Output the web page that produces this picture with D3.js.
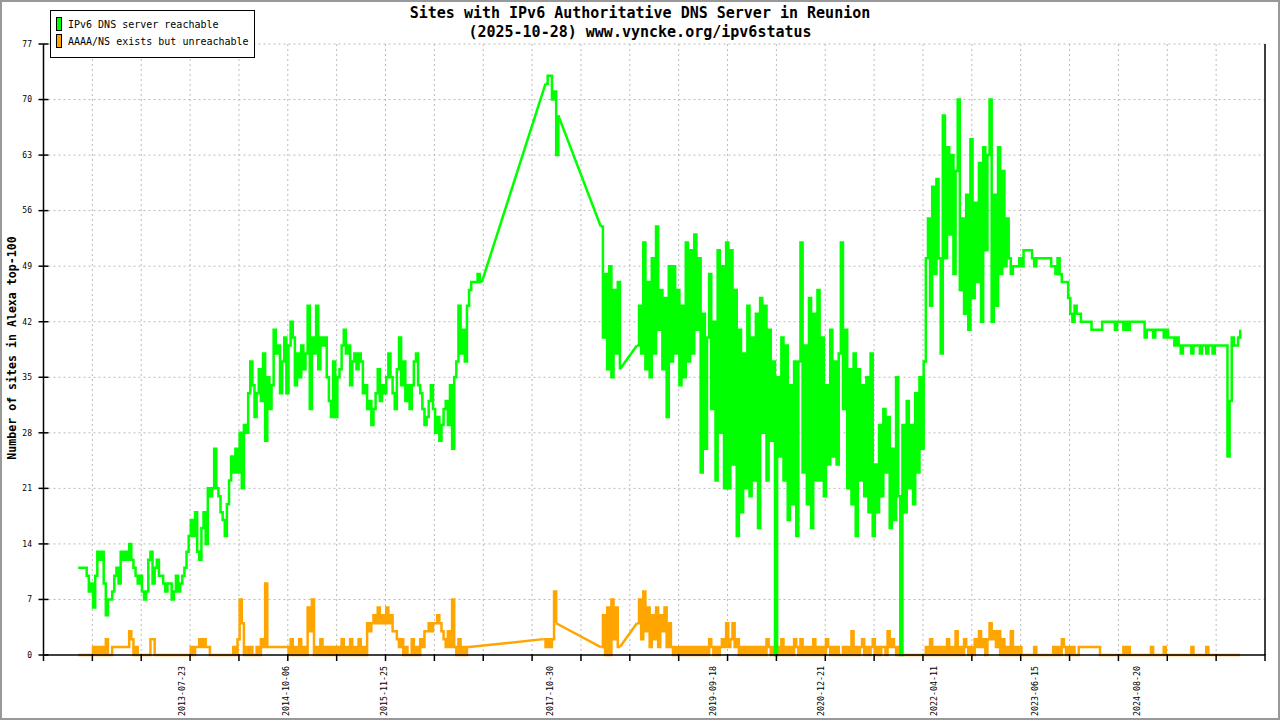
<!DOCTYPE html>
<html>
<head>
<meta charset="utf-8">
<script src="https://cdn.jsdelivr.net/npm/d3@7"></script>
<style>
  body { margin: 0; background: #fff; }
  svg { display: block; }
  text { font-family: "DejaVu Sans Mono", "Liberation Mono", monospace; fill: #000; }
</style>
</head>
<body>
<svg id="chart" width="1280" height="720"></svg>
<script>
const N = null;

// one value every 9 days starting 2012-05-09, null = no sample (line joins across)
const startDate = "2012-05-09";
const stepDays = 9;

const reachable = [
  11,11,11,11,10,8,9,6,10,13,
  12,13,9,5,7,7,8,10,11,9,
  13,12,13,12,14,12,11,10,9,10,
  8,7,8,12,13,9,11,12,10,10,
  9,8,9,9,7,8,10,8,9,10,
  11,13,15,17,15,18,13,12,16,18,
  14,21,20,21,26,21,20,18,17,15,
  19,22,25,23,26,23,28,21,29,28,
  33,37,34,30,33,36,32,38,27,35,
  31,34,41,38,39,33,37,40,33,39,
  42,40,34,38,35,39,36,38,44,31,
  40,38,44,36,40,39,40,35,32,30,
  37,30,35,36,39,41,38,39,34,37,
  38,36,38,37,33,34,31,32,29,31,
  33,36,32,34,33,35,38,35,33,31,
  36,40,34,37,32,34,31,34,37,38,
  34,33,31,29,30,32,34,31,28,30,
  27,29,31,32,29,34,26,35,37,44,
  38,41,37,44,46,47,47,47,48,47,
  47,N,N,N,N,N,N,N,N,N,
  N,N,N,N,N,N,N,N,N,N,
  N,N,N,N,N,N,N,N,N,N,
  72,73,73,70,71,63,68,N,N,N,
  N,N,N,N,N,N,N,N,N,N,
  N,N,N,N,N,N,54,40,48,36,
  49,35,46,38,47,36,N,N,N,N,
  N,N,N,39,44,38,52,36,47,35,
  50,38,54,41,46,36,45,30,49,37,
  49,38,46,34,44,35,52,37,51,38,
  53,41,50,23,43,26,40,48,31,42,
  22,51,28,49,21,52,21,51,24,46,
  15,41,18,38,21,44,20,40,22,43,
  16,45,28,44,22,41,27,37,0,35,
  25,40,22,39,17,34,19,37,15,37,
  52,23,39,19,45,16,43,22,46,22,
  40,20,34,24,41,25,37,24,38,52,
  31,41,21,36,19,38,15,36,22,34,
  20,35,18,38,15,24,18,29,20,31,
  23,30,16,26,17,35,20,0,29,18,
  32,21,29,19,33,23,35,26,37,50,
  55,44,59,48,60,50,38,68,50,64,
  53,63,48,61,70,46,55,43,58,41,
  65,45,57,47,62,42,64,51,63,70,
  42,58,44,64,48,61,49,55,50,48,
  49,49,49,50,49,51,51,51,51,50,
  49,50,50,50,50,50,50,50,49,49,
  48,50,48,47,47,47,45,43,42,44,
  43,43,42,42,42,42,42,41,41,41,
  41,41,42,42,42,42,42,42,41,42,
  42,42,41,42,41,42,42,42,42,42,
  42,42,40,41,41,41,40,41,41,41,
  41,40,41,40,40,40,39,40,39,38,
  39,39,39,39,38,39,39,39,38,39,
  39,38,39,39,38,39,39,39,39,39,
  39,25,32,40,39,39,40,41
];

const unreachable = [
  0,0,0,0,0,0,0,1,0,1,
  0,1,0,2,0,0,1,1,1,1,
  1,1,1,1,3,2,0,1,0,0,
  0,0,0,0,2,2,0,0,0,0,
  0,0,0,0,0,0,0,0,0,0,
  0,0,0,1,0,1,1,2,1,2,
  1,1,0,0,0,0,0,0,0,0,
  0,0,0,1,0,2,7,4,0,1,
  0,1,0,0,1,0,2,1,9,1,
  1,1,1,1,1,1,1,1,1,0,
  2,0,1,0,2,0,1,0,6,3,
  7,0,1,0,2,0,1,0,1,0,
  1,0,1,0,2,0,1,0,2,0,
  1,0,2,0,1,0,4,3,4,5,
  4,6,4,5,4,6,4,5,3,3,
  2,1,2,0,1,0,0,2,0,1,
  0,2,1,3,3,4,3,4,4,5,
  4,3,2,1,3,1,7,1,0,2,
  0,1,0,1,1,N,N,N,N,N,
  N,N,N,N,N,N,N,N,N,N,
  N,N,N,N,N,N,N,N,N,N,
  N,N,N,N,N,N,N,N,N,2,
  1,2,1,2,8,4,N,N,N,N,
  N,N,N,N,N,N,N,N,N,N,
  N,N,N,N,N,N,1,5,0,6,
  0,7,2,6,1,1,N,N,N,N,
  N,N,N,4,7,2,8,3,6,1,
  5,2,6,1,5,3,6,1,4,1,
  0,1,0,1,0,1,0,1,0,1,
  0,1,0,1,0,1,0,2,1,0,
  1,0,1,2,1,4,1,2,4,1,
  2,0,1,0,1,0,1,0,1,0,
  1,0,1,0,2,1,0,1,0,1,
  0,2,0,1,0,1,0,2,1,0,
  2,0,1,0,1,0,2,0,1,0,
  1,0,2,1,0,1,0,1,0,0,
  1,0,1,0,3,0,1,0,1,2,
  0,1,0,1,2,0,1,0,1,1,
  0,3,1,2,1,0,1,0,0,0,
  0,0,0,0,0,0,0,0,0,1,
  0,2,0,1,0,1,0,1,0,2,
  0,1,0,3,0,1,0,2,1,0,
  1,0,2,1,3,1,2,0,2,4,
  2,3,1,3,0,2,0,1,0,3,
  0,1,0,1,0,0,0,0,0,0,
  1,0,0,0,0,0,0,0,0,1,
  0,1,0,2,1,0,1,0,1,0,
  0,1,1,1,1,1,1,1,1,1,
  1,0,0,0,0,0,0,0,0,0,
  0,0,1,0,1,0,0,0,0,0,
  0,0,0,0,0,1,0,0,0,0,
  0,1,0,0,0,0,0,0,0,0,
  0,0,0,0,1,0,0,0,0,0,
  0,1,0,0,0,0,0,0,0,0,
  0,0,0,0,0,0,0,0
];

const xLabels = ["2013-07-23","2014-10-06","2015-11-25","2017-10-30","2019-09-18",
                 "2020-12-21","2022-04-11","2023-06-15","2024-08-20"];
const yTicks = [0,7,14,21,28,35,42,49,56,63,70,77];
const xDomain = ["2011-12-14","2026-02-13"];
const seriesNames = ["IPv6 DNS server reachable","AAAA/NS exists but unreachable"];
const seriesColors = ["#00ff00","#ffa500"];
const titleLines = ["Sites with IPv6 Authoritative DNS Server in Reunion",
                    "(2025-10-28) www.vyncke.org/ipv6status"];

const W = 1280, H = 720;
const plotL = 43.5, plotR = 1265, plotT = 44, plotB = 655;

const parse = d3.timeParse("%Y-%m-%d");
const start = parse(startDate);

const svg = d3.select("#chart");

// frame of the whole picture
svg.append("rect").attr("x",1).attr("y",1).attr("width",W-2).attr("height",H-2)
  .attr("fill","#fff").attr("stroke","#999").attr("stroke-width",2);

const x = d3.scaleTime()
  .domain(xDomain.map(parse))
  .range([plotL, plotR]);

const y = d3.scaleLinear()
  .domain([0, 77])
  .range([plotB, plotT]);

// regular tick marks (25 intervals across the plot)
const t0 = x.domain()[0].getTime(), t1 = x.domain()[1].getTime();
const tickDates = d3.range(26).map(k => new Date(t0 + k * (t1 - t0) / 25));

// grid
svg.append("g").selectAll("line").data(tickDates.slice(1, -1)).join("line")
  .attr("x1", d => x(d)).attr("x2", d => x(d))
  .attr("y1", plotT).attr("y2", plotB)
  .attr("stroke","#bbb").attr("stroke-width",1).attr("stroke-dasharray","2,3");

svg.append("g").selectAll("line").data(yTicks.slice(1)).join("line")
  .attr("x1", plotL).attr("x2", plotR)
  .attr("y1", d => y(d)).attr("y2", d => y(d))
  .attr("stroke","#bbb").attr("stroke-width",1).attr("stroke-dasharray","2,3");

// series: consecutive samples drawn as steps, missing stretches bridged by a straight line
function toRuns(values) {
  let runs = [], cur = [];
  values.forEach((v, i) => {
    if (v === null) {
      if (cur.length) { runs.push(cur); cur = []; }
    } else {
      cur.push({date: d3.timeDay.offset(start, i * stepDays), v});
    }
  });
  if (cur.length) runs.push(cur);
  return runs;
}

let stepLine = d3.line()
  .curve(d3.curveStepAfter)
  .x(d => x(d.date))
  .y(d => y(d.v));

let straight = d3.line()
  .x(d => x(d.date))
  .y(d => y(d.v));

function drawSeries(values, color) {
  let runs = toRuns(values);
  let g = svg.append("g")
    .attr("fill","none").attr("stroke",color)
    .attr("stroke-width",2.5).attr("stroke-linejoin","miter");
  g.selectAll("path.run").data(runs).join("path")
    .attr("class","run").attr("d", stepLine);
  let bridges = d3.pairs(runs).map(([a, b]) => [a[a.length - 1], b[0]]);
  g.selectAll("path.gap").data(bridges).join("path")
    .attr("class","gap").attr("d", straight);
}

drawSeries(unreachable, seriesColors[1]);
drawSeries(reachable, seriesColors[0]);

// axes
const axes = svg.append("g").attr("stroke","#000").attr("stroke-width",1.5);
axes.append("line").attr("x1",plotL).attr("x2",plotL).attr("y1",plotT).attr("y2",plotB);
axes.append("line").attr("x1",plotL).attr("x2",plotR).attr("y1",plotB).attr("y2",plotB);
axes.append("line").attr("x1",plotR).attr("x2",plotR).attr("y1",plotT).attr("y2",plotB);

svg.append("g").selectAll("line").data(tickDates).join("line")
  .attr("x1", d => x(d)).attr("x2", d => x(d))
  .attr("y1", plotB - 1).attr("y2", plotB + 6)
  .attr("stroke","#000").attr("stroke-width",1.5);

svg.append("g").selectAll("line").data(yTicks).join("line")
  .attr("x1", plotL - 5).attr("x2", plotL + 5)
  .attr("y1", d => y(d)).attr("y2", d => y(d))
  .attr("stroke","#000").attr("stroke-width",1.5);

svg.append("g").selectAll("text").data(yTicks).join("text")
  .attr("x", 32).attr("y", d => y(d)).attr("dy","0.35em")
  .attr("text-anchor","end").attr("font-size","8px")
  .text(d => d);

svg.append("g").selectAll("text").data(xLabels).join("text")
  .attr("transform", d => `translate(${x(parse(d))},666) rotate(-90)`)
  .attr("dy","0.35em").attr("text-anchor","end").attr("font-size","8.3px")
  .text(d => d);

// y title
svg.append("text")
  .attr("transform","translate(12,348) rotate(-90)")
  .attr("dy","0.35em").attr("text-anchor","middle")
  .attr("font-size","11.6px").attr("font-weight","bold")
  .text("Number of sites in Alexa top-100");

// title
svg.append("g").selectAll("text").data(titleLines).join("text")
  .attr("x", 640).attr("y", (d, i) => 18 + i * 19)
  .attr("text-anchor","middle").attr("font-size","15px").attr("font-weight","bold")
  .text(d => d);

// legend
const legend = svg.append("g");
legend.append("rect").attr("x",50.5).attr("y",10.5).attr("width",204).attr("height",47)
  .attr("fill","#fff").attr("stroke","#000").attr("stroke-width",1);
seriesNames.forEach((name, i) => {
  legend.append("rect").attr("x",56.5).attr("y",17.5 + i * 17).attr("width",5).attr("height",13)
    .attr("fill",seriesColors[i]).attr("stroke","#000").attr("stroke-width",1);
  legend.append("text").attr("x",68).attr("y",24 + i * 17).attr("dy","0.35em")
    .attr("font-size","10px").text(name);
});
</script>
</body>
</html>
